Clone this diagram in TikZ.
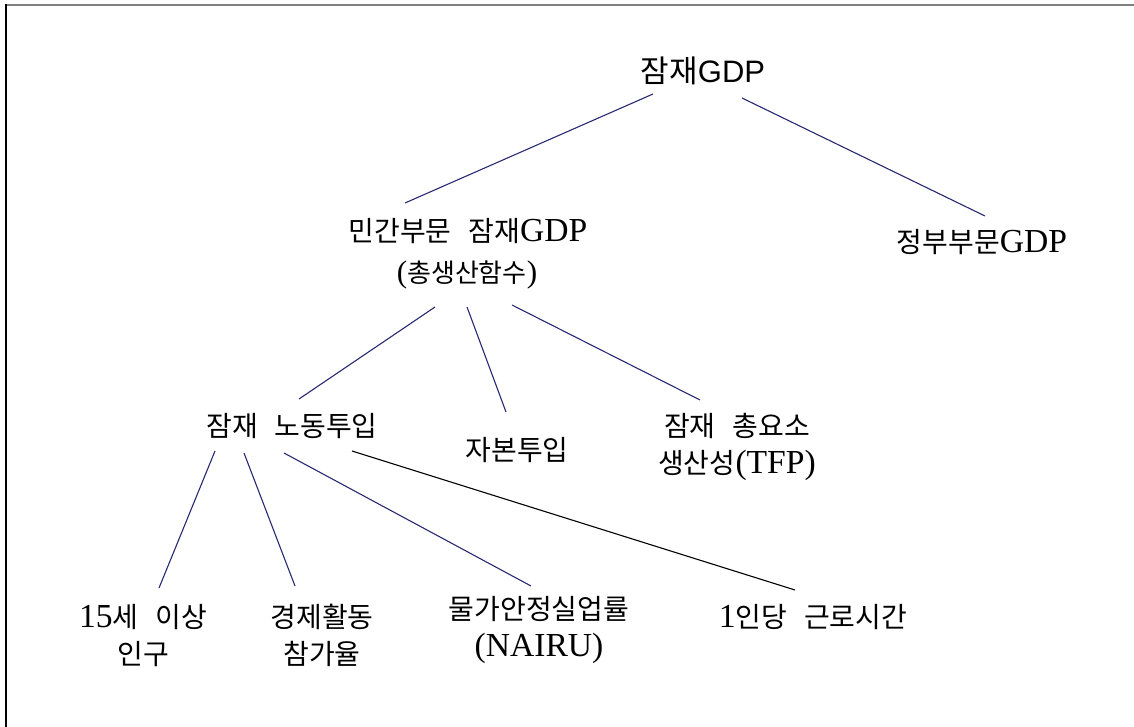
\documentclass[tikz,border=0pt]{standalone}
\usepackage{fontspec}
\setmainfont{Liberation Serif}[Scale=1.2]
\newfontfamily\kr{Noto Sans CJK KR}
\newfontfamily\latsans{Liberation Sans}
\definecolor{linkblue}{RGB}{40,40,115}
\definecolor{framegray}{RGB}{128,128,128}
\newcommand{\wsp}{\hspace{0.6em}}
\begin{document}
\begin{tikzpicture}[x=1pt,y=1pt,
  lbl/.style={inner sep=0pt, align=center, font=\fontsize{28}{37}\selectfont},
  sublbl/.style={inner sep=0pt, align=center, font=\fontsize{26}{30}\selectfont},
  link/.style={draw=linkblue, line width=1.1pt},
  darklink/.style={draw=black, line width=1.1pt}]
\useasboundingbox (0,0) rectangle (1134,-727);
% frame: grey top rule, black left rule
\draw[framegray, line width=2pt] (6,-5.5) -- (1134,-5.5);
\draw[black, line width=2pt] (6,-4.5) -- (6,-727);

% level 0
\node[lbl, font=\fontsize{31}{37}\selectfont\latsans] (top) at (703,-71) {{\kr 잠재}GDP};
% level 1
\node[lbl] (mingan) at (468,-231) {{\kr 민간부문\wsp 잠재}GDP};
\node[sublbl] (minganfn) at (467,-275) {({\kr 총생산함수})};
\node[lbl] (jeongbu) at (982,-242) {{\kr 정부부문}GDP};
% level 2
\node[lbl] (nodong) at (292,-426) {{\kr 잠재\wsp 노동투입}};
\node[lbl] (jabon) at (517,-450) {{\kr 자본투입}};
\node[lbl] (tfp) at (737,-447) {{\kr 잠재\wsp 총요소}\\{\kr 생산성}(TFP)};
% level 3
\node[lbl] (pop) at (143,-636) {15{\kr 세\wsp 이상}\\{\kr 인구}};
\node[lbl] (part) at (322,-635) {{\kr 경제활동}\\{\kr 참가율}};
\node[lbl] (nairu) at (539,-630) {{\kr 물가안정실업률}\\(NAIRU)};
\node[lbl] (hours) at (813,-617) {1{\kr 인당\wsp 근로시간}};

% connectors
\draw[link] ([shift={(-50,-23)}]top.center) -- ([shift={(-63,28)}]mingan.center);
\draw[link] ([shift={(39,-27)}]top.center) -- ([shift={(3,26)}]jeongbu.center);

\draw[link] ([shift={(-32,-32)}]minganfn.center) -- ([shift={(7,27)}]nodong.center);
\draw[link] ([shift={(0,-32)}]minganfn.center) -- ([shift={(-11,38)}]jabon.center);
\draw[link] ([shift={(45,-30)}]minganfn.center) -- ([shift={(-37,47)}]tfp.center);

\draw[link] ([shift={(-77,-25)}]nodong.center) -- ([shift={(16,48)}]pop.center);
\draw[link] ([shift={(-48,-27)}]nodong.center) -- ([shift={(-27,49)}]part.center);
\draw[link] ([shift={(-8,-27)}]nodong.center) -- ([shift={(-8,44)}]nairu.center);
\draw[darklink] ([shift={(60,-25)}]nodong.center) -- ([shift={(-18,27)}]hours.center);
\end{tikzpicture}
\end{document}
